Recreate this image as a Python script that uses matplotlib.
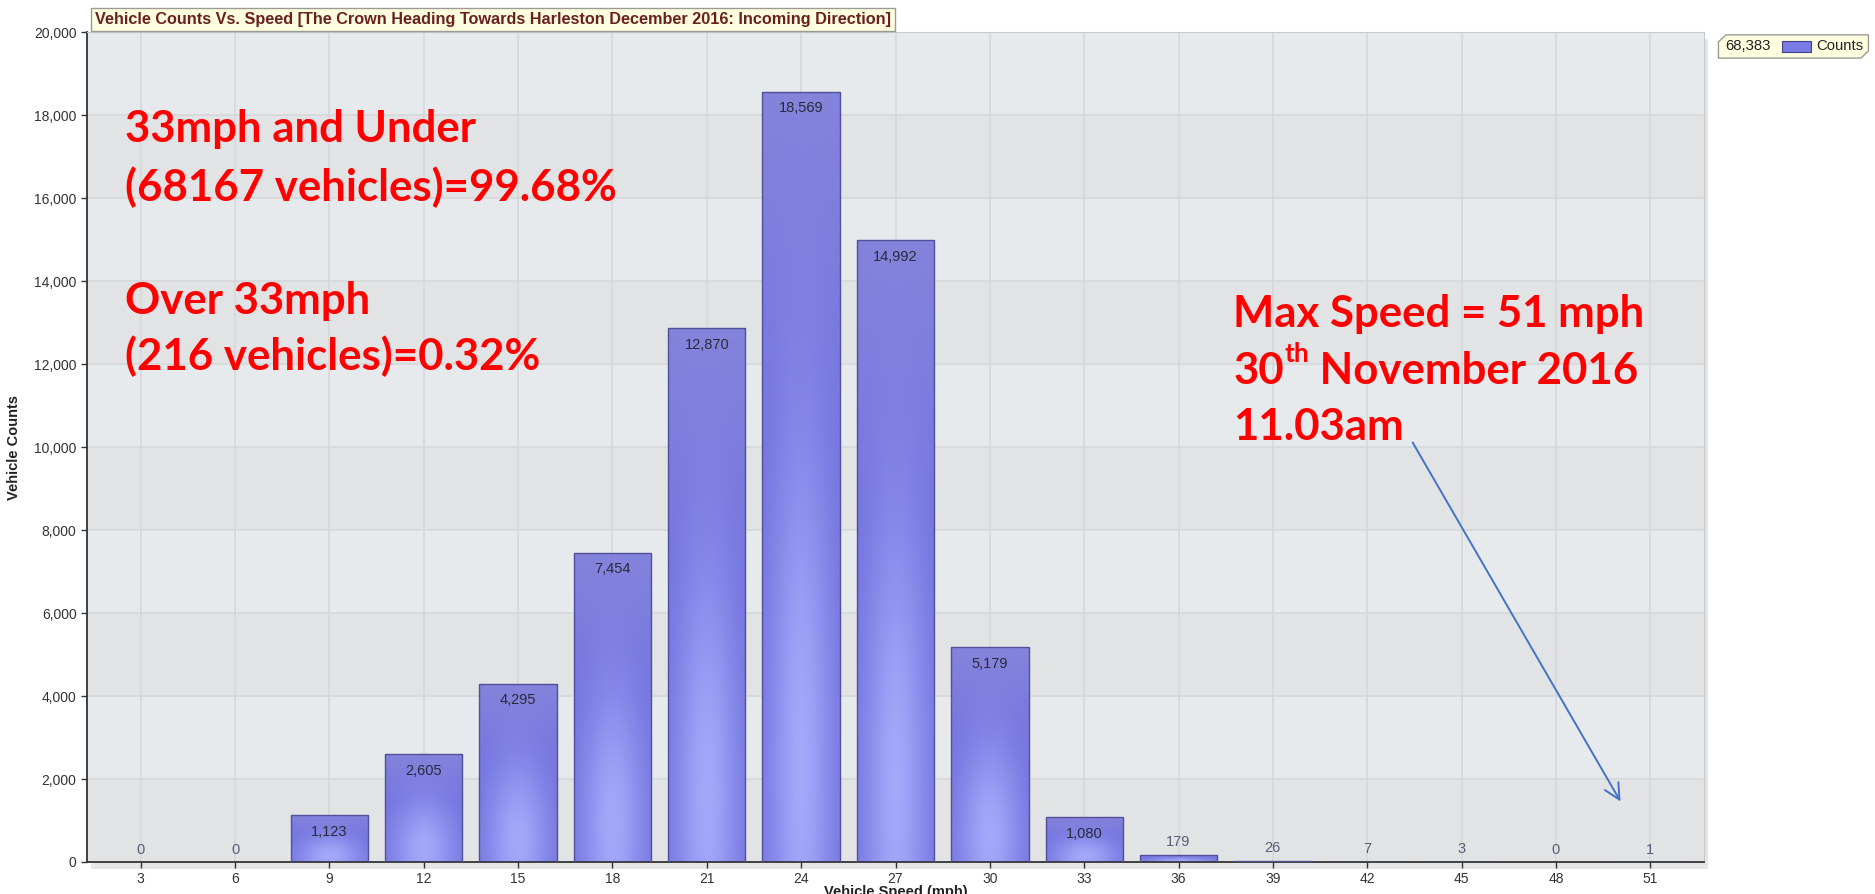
import numpy as np
import matplotlib
matplotlib.use("Agg")
import matplotlib.pyplot as plt
from matplotlib.patches import Rectangle, Polygon
from matplotlib.ticker import FuncFormatter

# data
speeds = [3, 6, 9, 12, 15, 18, 21, 24, 27, 30, 33, 36, 39, 42, 45, 48, 51]
counts = [0, 0, 1123, 2605, 4295, 7454, 12870, 18569, 14992, 5179, 1080, 179, 26, 7, 3, 0, 1]
total = 68383
title = "Vehicle Counts Vs. Speed [The Crown Heading Towards Harleston December 2016: Incoming Direction]"
under_lines = ["33mph and Under", "(68167 vehicles)=99.68%"]
over_lines = ["Over 33mph", "(216 vehicles)=0.32%"]
max_speed = 51
max_lines = ["Max Speed = 51 mph", "30", "th", " November 2016", "11.03am"]

narrow = ["Liberation Sans Narrow", "Liberation Sans", "DejaVu Sans"]
red_font = ["Lato", "DejaVu Sans"]


def bar_gradient(h=200, w=40):
    """purple bar fill: darker top, soft light glow near the bottom middle"""
    u = np.linspace(-1, 1, w)[None, :]
    v = np.linspace(0, 1, h)[:, None]
    base = np.array([0.45, 0.45, 0.87])
    light = np.array([0.64, 0.66, 0.98])
    top = np.array([0.56, 0.56, 0.86])
    glow = np.exp(-(u / 0.8) ** 2 - ((v - 0.12) / 0.45) ** 2)[..., None]
    img = base * (1 - glow) + light * glow
    t = (np.clip((v - 0.55) / 0.45, 0, 1) * 0.6)[..., None]
    img = img * (1 - t) + top * t
    return img


fig = plt.figure(figsize=(18.75, 8.94), dpi=100)
fig.patch.set_facecolor("white")
ax = fig.add_axes([0.0464, 0.0358, 0.8624, 0.9282])

# drop shadow behind the plot area
fig.patches.append(Rectangle((0.0484, 0.028), 0.8624, 0.9282, transform=fig.transFigure,
                             facecolor="#e6e6e6", edgecolor="none", zorder=-5))

bw = 3 * 0.82
ax.set_xlim(speeds[0] - 1.71, speeds[-1] + 1.71)
ax.set_ylim(0, 20000)

# banded background
for i, y0 in enumerate(range(0, 20000, 2000)):
    ax.axhspan(y0, y0 + 2000, facecolor="#e2e3e5" if i % 2 == 0 else "#e7eaed",
               edgecolor="none", zorder=0)
ax.set_axisbelow(True)
ax.grid(True, color="#d6d6d8", lw=1.1)

grad = bar_gradient()
for s, c in zip(speeds, counts):
    if c > 0:
        rect = Rectangle((s - bw / 2, 0), bw, c, facecolor="none",
                         edgecolor="#50509a", lw=1.0, zorder=3)
        ax.add_patch(rect)
        im = ax.imshow(grad, extent=[s - bw / 2, s + bw / 2, 0, c], origin="lower",
                       aspect="auto", zorder=2, interpolation="bilinear")
        im.set_clip_path(rect)
    if c > 1000:
        ax.text(s, c - 400, f"{c:,}", ha="center", va="center", fontsize=10.5,
                color="#2a2a3a", family=narrow, zorder=4)
    else:
        ax.text(s, c + 300, f"{c:,}", ha="center", va="center", fontsize=10.5,
                color="#5a5a7a", family=narrow, zorder=4)

ax.set_xticks(speeds)
ax.set_yticks(range(0, 20001, 2000))
ax.yaxis.set_major_formatter(FuncFormatter(lambda v, p: f"{int(v):,}"))
ax.tick_params(labelsize=10, colors="#333333", length=4, width=1)
for lab in ax.get_xticklabels() + ax.get_yticklabels():
    lab.set_family(narrow)
for sp in ["left", "bottom"]:
    ax.spines[sp].set_color("#333333")
    ax.spines[sp].set_linewidth(1.3)
for sp in ["top", "right"]:
    ax.spines[sp].set_color("#c8c8c8")

fig.text(0.0075, 0.499, "Vehicle Counts", rotation=90, ha="center", va="center",
         fontsize=10.5, fontweight="bold", color="#222222", family=narrow)
fig.text(0.478, 0.002, "Vehicle Speed (mph)", ha="center", va="center",
         fontsize=10.5, fontweight="bold", color="#222222", family=narrow)

# title tag
fig.text(0.0507, 0.9785, title, ha="left", va="center", fontsize=11.7,
         fontweight="bold", color="#6b2020", family=narrow,
         bbox=dict(boxstyle="square,pad=0.25", facecolor="#ffffe0", edgecolor="#9a9a9a", lw=1))

# legend tag, top right
lx0, lx1, ly0, ly1 = 0.9165, 0.9965, 0.935, 0.961
fig.patches.append(Polygon([(lx0 + 0.004, ly1), (lx1, ly1), (lx1, ly0 + 0.008),
                            (lx1 - 0.004, ly0), (lx0, ly0), (lx0, ly1 - 0.008)],
                           closed=True, transform=fig.transFigure,
                           facecolor="#ffffe0", edgecolor="#9a9a9a", lw=1))
fig.text(lx0 + 0.0035, (ly0 + ly1) / 2, f"{total:,}", ha="left", va="center",
         fontsize=10.7, color="#222222", family=narrow)
fig.patches.append(Rectangle((0.9505, 0.9415), 0.0155, 0.0125, transform=fig.transFigure,
                             facecolor="#7b7be6", edgecolor="#40408a", lw=0.8))
fig.text(0.9688, (ly0 + ly1) / 2, "Counts", ha="left", va="center",
         fontsize=10.7, color="#222222", family=narrow)

# red annotations
red = dict(color="#ff0000", fontsize=31.5, fontweight="bold", family=red_font,
           transform=ax.transAxes, ha="left", va="center")
ax.text(0.0237, 0.883, under_lines[0], **red)
ax.text(0.0237, 0.813, under_lines[1], **red)
ax.text(0.0237, 0.676, over_lines[0], **red)
ax.text(0.0237, 0.610, over_lines[1], **red)
ax.text(0.709, 0.660, max_lines[0], **red)
t30 = ax.text(0.709, 0.592, max_lines[1], **red)
tth = ax.annotate(max_lines[2], xy=(1, 0.62), xycoords=t30, ha="left", va="bottom",
                  color="#ff0000", fontsize=19, fontweight="bold", family=red_font)
ax.annotate(max_lines[3], xy=(1, 0.5), xycoords=(tth, t30), ha="left", va="center",
            color="#ff0000", fontsize=31.5, fontweight="bold", family=red_font)
ax.text(0.709, 0.524, max_lines[4], **red)

ax.annotate("", xy=(max_speed - 0.9, 1400), xytext=(max_speed - 7.6, 10170),
            arrowprops=dict(arrowstyle="->", color="#4472c4", lw=1.4, mutation_scale=28),
            zorder=5)

fig.savefig("out.png", dpi=100)
